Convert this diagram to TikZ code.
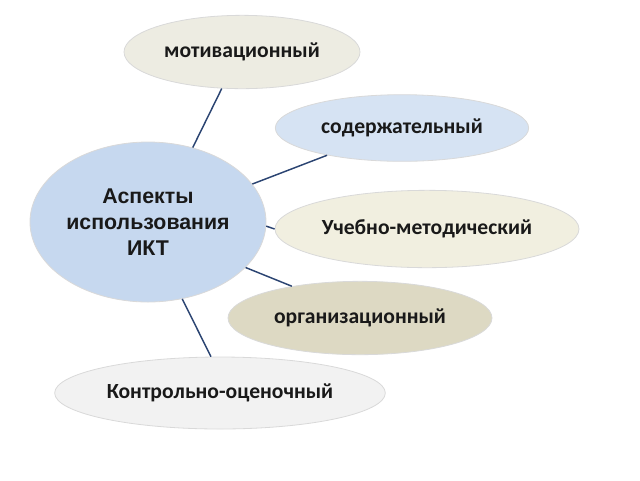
\documentclass[tikz,border=0pt]{standalone}
\usepackage{fontspec}
\setmainfont{Carlito}
\newfontfamily\centerfont{Liberation Sans}
\usetikzlibrary{shapes.geometric}
\definecolor{cblue}{HTML}{C6D8EF}
\definecolor{sblue}{HTML}{D6E3F3}
\definecolor{mgray}{HTML}{EDECE2}
\definecolor{ucream}{HTML}{F1EFE0}
\definecolor{obeige}{HTML}{DDD9C3}
\definecolor{klight}{HTML}{F2F2F2}
\definecolor{linkc}{HTML}{2B4472}
\tikzset{
  blob/.style={ellipse, inner sep=0pt, draw=gray!30, line width=0.6pt, text=black!90,
    font=\fontsize{16.2}{19}\selectfont\bfseries},
  link/.style={draw=linkc, line width=1.1pt}
}
\begin{document}
\begin{tikzpicture}[x=0.75pt,y=-0.75pt]
\useasboundingbox (0,0) rectangle (640,480);
\node[blob, fill=cblue, minimum width=177pt, minimum height=120pt,
  font=\centerfont\fontsize{16}{19.5}\selectfont\bfseries, align=center] (c) at (148,222) {Аспекты\\использования\\ИКТ};
\node[blob, fill=mgray, minimum width=177pt, minimum height=55pt] (m) at (242,52) {мотивационный};
\node[blob, fill=sblue, minimum width=190pt, minimum height=50pt] (s) at (402,128) {содержательный};
\node[blob, fill=ucream, minimum width=228pt, minimum height=58pt] (u) at (427,229) {Учебно-методический};
\node[blob, fill=obeige, minimum width=198pt, minimum height=55pt] (o) at (360,318) {организационный};
\node[blob, fill=klight, minimum width=248pt, minimum height=54pt] (k) at (220,393) {Контрольно-оценочный};
\draw[link] (c.59) -- (m.241);
\draw[link] (c.20) -- (s.200);
\draw[link] (c.-2) -- (u.180);
\draw[link] (c.-25) -- (o.155);
\draw[link] (c.-66) -- (k.104);
\end{tikzpicture}
\end{document}
